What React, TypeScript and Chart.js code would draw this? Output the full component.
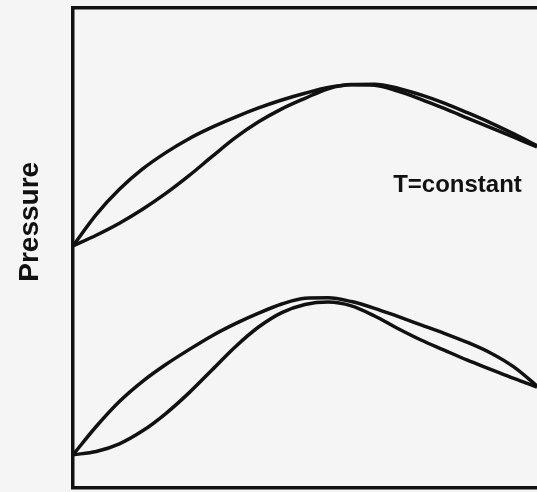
import { useEffect, useRef } from "react";
import { Chart, registerables } from "chart.js";

Chart.register(...registerables);

// Composition (0..100) and pressure (arbitrary units, 0..100)
const compX = [0, 5, 10, 15, 20, 25, 30, 35, 40, 45, 50, 55, 60, 65, 70, 75, 80, 85, 90, 95, 100];

const upperOuterY = [50.4, 56.9, 62.15, 66.4, 69.8, 72.7, 75.1, 77.2, 79.1, 80.75, 82.15, 83.35, 84.0, 84.05, 83.2, 81.8, 80.1, 78.1, 76.0, 73.7, 71.25];
const upperInnerY = [50.4, 52.6, 55.1, 58.0, 61.3, 65.0, 69.0, 72.9, 76.2, 78.9, 81.1, 83.1, 83.9, 83.8, 82.6, 80.9, 79.0, 77.0, 75.0, 73.0, 71.0];

const lowerOuterY = [6.9, 12.8, 18.0, 22.2, 25.7, 28.8, 31.7, 34.2, 36.4, 38.3, 39.5, 39.6, 38.8, 37.4, 35.7, 33.95, 32.2, 30.3, 28.1, 25.2, 21.25];
const lowerInnerY = [6.9, 7.6, 9.2, 11.9, 15.5, 19.8, 24.6, 29.4, 33.5, 36.5, 38.2, 38.7, 37.9, 35.8, 33.2, 30.8, 28.7, 26.6, 24.7, 22.8, 21.0];

const yAxisTitle = "Pressure";
const annotationText = "T=constant";
const annotationX = 69.0;
const annotationY = 61.5;

const ink = "#111111";

function toPoints(xs: number[], ys: number[]) {
  return xs.map((x, i) => ({ x, y: ys[i] }));
}

const textPlugin = {
  id: "textLabels",
  afterDraw(chart: any) {
    const { ctx, chartArea, scales } = chart;
    ctx.save();
    ctx.fillStyle = ink;
    ctx.font = 'bold 24px "Liberation Sans", Arial, sans-serif';
    ctx.textAlign = "left";
    ctx.textBaseline = "alphabetic";
    ctx.fillText(
      annotationText,
      scales.x.getPixelForValue(annotationX),
      scales.y.getPixelForValue(annotationY)
    );
    ctx.font = 'bold 28px "Liberation Sans", Arial, sans-serif';
    ctx.translate(chartArea.left - 35, scales.y.getPixelForValue(55.4));
    ctx.rotate(-Math.PI / 2);
    ctx.textAlign = "center";
    ctx.fillText(yAxisTitle, 0, 0);
    ctx.restore();
  },
};

export default function App() {
  const ref = useRef<HTMLCanvasElement | null>(null);

  useEffect(() => {
    if (!ref.current) return;
    const line = (xs: number[], ys: number[]) => ({
      data: toPoints(xs, ys),
      borderColor: ink,
      borderWidth: 3.5,
      pointRadius: 0,
      fill: false,
      cubicInterpolationMode: "monotone" as const,
    });
    const chart = new Chart(ref.current, {
      type: "line",
      data: {
        datasets: [
          line(compX, upperOuterY),
          line(compX, upperInnerY),
          line(compX, lowerOuterY),
          line(compX, lowerInnerY),
        ],
      },
      options: {
        animation: false,
        responsive: false,
        maintainAspectRatio: false,
        layout: { padding: 0 },
        plugins: {
          legend: { display: false },
          tooltip: { enabled: false },
          title: { display: false },
        },
        scales: {
          x: {
            type: "linear",
            position: "bottom",
            min: 0,
            max: 100,
            ticks: { display: false },
            grid: { display: false },
            border: { display: true, color: ink, width: 3.5 },
            afterFit: (s: any) => {
              s.height = 4;
            },
          },
          x2: {
            type: "linear",
            position: "top",
            min: 0,
            max: 100,
            ticks: { display: false },
            grid: { display: false },
            border: { display: true, color: ink, width: 3.5 },
            afterFit: (s: any) => {
              s.height = 7.5;
            },
          },
          y: {
            type: "linear",
            position: "left",
            min: 0,
            max: 100,
            ticks: { display: false },
            grid: { display: false },
            border: { display: true, color: ink, width: 3.5 },
            afterFit: (s: any) => {
              s.width = 73;
            },
          },
        },
      },
      plugins: [textPlugin],
    });
    return () => chart.destroy();
  }, []);

  return (
    <div
      style={{
        position: "fixed",
        left: 0,
        top: 0,
        width: 537,
        height: 492,
        background: "#f5f5f5",
      }}
    >
      <canvas ref={ref} width={537} height={492} style={{ display: "block" }} />
    </div>
  );
}
